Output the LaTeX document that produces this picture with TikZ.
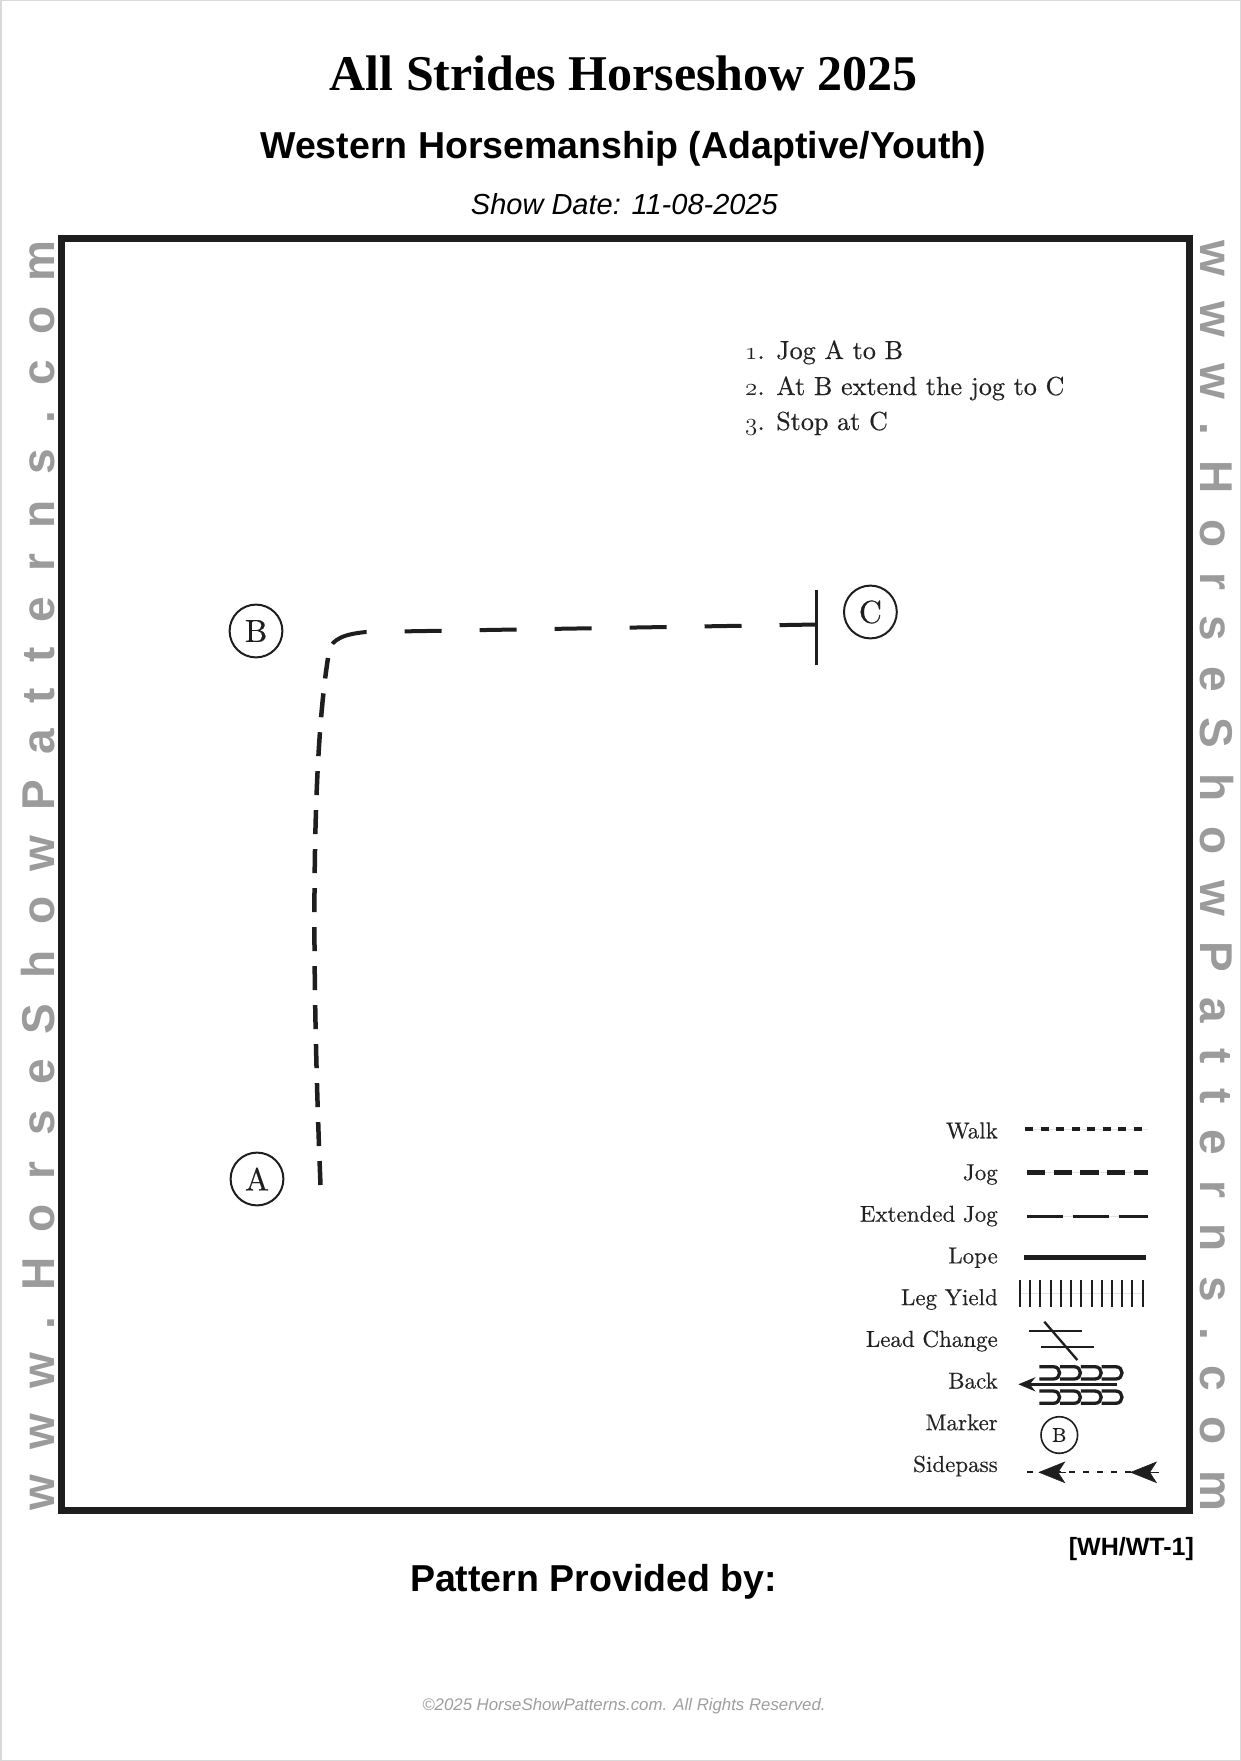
\documentclass[tikz,border=0pt]{standalone}
\usepackage{fontspec}
\newfontfamily\serifB{Liberation Serif}
\newfontfamily\sansA{Liberation Sans}
\newfontfamily\wmfont{Liberation Sans}[LetterSpace=55]
\newfontfamily\lmr{lmroman10-regular}[Extension=.otf, FakeBold=0.4]
\usetikzlibrary{arrows.meta}
\definecolor{wmgray}{HTML}{9B9B9B}
\definecolor{ink}{HTML}{1E1E1E}
\definecolor{txt}{HTML}{222222}
\newcommand{\osn}[1]{$\mathnormal{#1}$}
\begin{document}
\begin{tikzpicture}[x=1pt,y=-1pt,
  wm/.style={font=\wmfont\bfseries\fontsize{46}{50}\selectfont, text=wmgray, inner sep=0},
  instr/.style={anchor=base west, font=\lmr\fontsize{26.1}{31}\selectfont, text=txt, inner sep=0},
  marker/.style={circle, draw=ink, line width=2pt, minimum size=52.8pt, inner sep=0pt, text=ink, font=\lmr\fontsize{32}{32}\selectfont},
  lab/.style={anchor=base east, font=\lmr\fontsize{23}{27}\selectfont, text=txt, inner sep=0},
  jogpath/.style={draw=ink, line width=4.5pt, dash pattern=on 24pt off 15pt},
  extpath/.style={draw=ink, line width=4pt, dash pattern=on 37pt off 38pt},
  faint/.style={draw=gray!22, line width=1pt},
  sym/.style={draw=ink}
]
\useasboundingbox (0,0) rectangle (1241,1761);
\fill[white] (0,0) rectangle (1241,1761);
\draw[gray!30, line width=1.5pt] (0.75,0.75) rectangle (1240.25,1760.25);

% arena frame
\draw[ink, line width=7pt] (61.5,238.5) rectangle (1189,1510);

% headings
\node[anchor=base, inner sep=0, font=\serifB\bfseries\fontsize{50}{60}\selectfont] (title) at (623.5,90) {All Strides Horseshow 2025};
\node[anchor=base, inner sep=0, font=\sansA\bfseries\fontsize{37.5}{45}\selectfont] (sub) at (623.3,158.4) {Western Horsemanship (Adaptive/Youth)};
\node[anchor=base, inner sep=0, font=\sansA\itshape\fontsize{29}{35}\selectfont] (date) at (624.4,214.5) {Show Date: 11-08-2025};

% watermarks
\node[wm, rotate=90, anchor=base] (wmL) at (54,875.5) {www.HorseShowPatterns.com};
\node[wm, rotate=-90, anchor=base] (wmR) at (1200,876) {www.HorseShowPatterns.com};

% instructions
\node[instr] (s1) at (745,359) {\osn{1}. Jog A to B};
\node[instr] (s2) at (745,395) {\osn{2}. At B extend the jog to C};
\node[instr] (s3) at (745,430) {\osn{3}. Stop at C};

% markers
\node[marker] (A) at (257,1179) {A};
\node[marker] (B) at (256,631) {B};
\node[marker] (C) at (870.4,612) {C};

% pattern path
\coordinate (pA) at (320.5,1185);
\coordinate (pUp) at (328,658);
\coordinate (pCorner) at (328,652);
\coordinate (pTurn) at (366,632);
\coordinate (pStop) at (816.5,624.5);
\coordinate (stopT) at (816.5,589.6);
\coordinate (stopB) at (816.5,665);
\draw[jogpath] (pA) .. controls (311,950) and (312,760) .. (pUp);
\draw[extpath] (pStop) -- (pTurn) .. controls (346,634) and (332,638) .. (pCorner);
\draw[ink, line width=3.5pt] (stopT) -- (stopB);

% legend labels
\node[lab] (lWalk) at (998,1138.3) {Walk};
\node[lab] (lJog) at (998,1180) {Jog};
\node[lab] (lExt) at (998,1221.7) {Extended Jog};
\node[lab] (lLope) at (998,1263.4) {Lope};
\node[lab] (lLeg) at (998,1305.1) {Leg Yield};
\node[lab] (lLead) at (998,1346.8) {Lead Change};
\node[lab] (lBack) at (998,1388.5) {Back};
\node[lab] (lMark) at (998,1430.2) {Marker};
\node[lab] (lSide) at (998,1471.9) {Sidepass};

% legend symbols
\draw[faint] (1025,1129.3) -- (1148,1129.3);
\draw[sym, line width=4pt, dash pattern=on 8pt off 7.5pt] (1025,1129.3) -- (1148,1129.3);
\draw[faint] (1027,1172.7) -- (1148,1172.7);
\draw[sym, line width=5pt, dash pattern=on 18.3pt off 8.4pt] (1027,1172.7) -- (1148,1172.7);
\draw[faint] (1026.7,1216.7) -- (1148.3,1216.7);
\draw[sym, line width=3pt, dash pattern=on 36pt off 10pt] (1026.7,1216.7) -- (1148.3,1216.7);
\draw[sym, line width=5pt] (1024.3,1257.3) -- (1146,1257.3);
\draw[faint] (1020,1293.3) -- (1143,1293.3);
\foreach \i in {0,...,12} \draw[sym, line width=2pt] ({1020+10.22*\i},1280) -- ++(0,26.7);
\draw[sym, line width=2.3pt] (1029.3,1331) -- (1081.7,1331);
\draw[sym, line width=2.3pt] (1041,1347.3) -- (1094.3,1347.3);
\draw[sym, line width=2.3pt] (1044.3,1321.7) -- (1077.3,1360);
% back
\foreach \i in {0,...,3} {
  \draw[sym, line width=3.3pt] ({1039.3+20.8*\i},1366.7) -- ++(14,0) to[out=0,in=0,looseness=1.75] ++(0,12.3) -- ++(-14,0);
  \draw[sym, line width=3.3pt] ({1039.3+20.8*\i},1391) -- ++(14,0) to[out=0,in=0,looseness=1.75] ++(0,12.3) -- ++(-14,0);
}
\draw[sym, line width=3pt, -{Stealth[length=17pt,width=14pt]}] (1117,1384.3) -- (1018.3,1384.3);
% marker
\node[marker, minimum size=36.6pt, line width=1.6pt, font=\lmr\fontsize{20}{20}\selectfont] (mB) at (1059.3,1435) {B};
% sidepass
\draw[sym, line width=2.3pt, dash pattern=on 6pt off 8pt] (1027.3,1472.3) -- (1132,1472.3);
\draw[sym, line width=0.5pt, fill=ink, -{Stealth[length=27pt,width=21.6pt,inset=7pt]}] (1066,1472.3) -- (1038.3,1472.3);
\draw[sym, line width=0.5pt, fill=ink, -{Stealth[length=27pt,width=21.6pt,inset=7pt]}] (1159,1472.3) -- (1130,1472.3);

% footer
\node[anchor=base east, inner sep=0, font=\sansA\bfseries\fontsize{25}{30}\selectfont] (code) at (1194,1555) {[WH/WT-1]};
\node[anchor=base, inner sep=0, font=\sansA\bfseries\fontsize{37.5}{45}\selectfont] (prov) at (593.5,1591.5) {Pattern Provided by:};
\node[anchor=base, inner sep=0, text=gray!75, font=\sansA\itshape\fontsize{16.8}{20}\selectfont] (copy) at (624,1710.5) {©2025 HorseShowPatterns.com. All Rights Reserved.};
\end{tikzpicture}
\end{document}
